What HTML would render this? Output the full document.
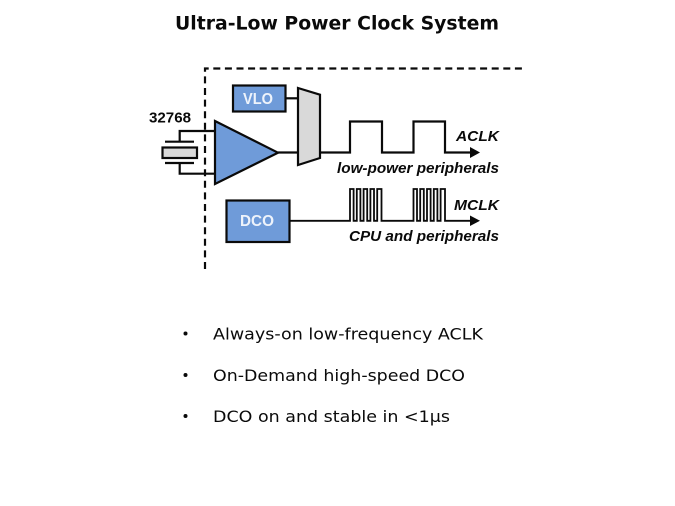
<!DOCTYPE html>
<html><head><meta charset="utf-8"><style>
html,body{margin:0;padding:0;background:#fff;width:675px;height:506px;overflow:hidden}
svg{display:block}
.v{font-family:"DejaVu Sans","Liberation Sans",sans-serif;fill:#0a0a0a}
.a{font-family:"Liberation Sans",sans-serif;font-weight:bold;fill:#0a0a0a}
.i{font-style:italic;font-size:15px}
.w{fill:#eef3fb;font-size:16px}
</style></head><body>
<svg width="675" height="506" viewBox="0 0 675 506" xmlns="http://www.w3.org/2000/svg">
<text class="v" x="175" y="29.500" font-size="18.500" font-weight="bold" textLength="324" lengthAdjust="spacingAndGlyphs">Ultra-Low Power Clock System</text>

<g fill="none" stroke="#0a0a0a" stroke-width="2.200">
<path d="M205 269V68.500H523" stroke-dasharray="7 4.600"/>
<path d="M165 141.700H194M165 163H194"/>
<path d="M179.700 141.700V131H216M179.700 163V173.700H216"/>
<path d="M286 98.300H298"/>
<path d="M278 152.500H298"/>
<path d="M320 152.500H350V121.500H382V152.500H413.500V121.500H445V152.500H472"/>
<path d="M290 220.800H350V189H353.600V220.800H356.800V189H360.400V220.800H363.600V189H367.200V220.800H370.400V189H374V220.800H377.200V189H381.500V220.800H413.500V189H417V220.800H420.200V189H423.800V220.800H427V189H430.600V220.800H433.800V189H437.400V220.800H440.600V189H445V220.800H472" stroke-width="1.800"/>
</g>
<path d="M470 147L480 152.500L470 158Z" fill="#0a0a0a"/>
<path d="M470 215.500L480 220.800L470 226Z" fill="#0a0a0a"/>

<rect x="162.500" y="147.500" width="34.500" height="10.500" fill="#d9d9d9" stroke="#0a0a0a" stroke-width="2.200"/>
<path d="M215 121L278 152.700L215 184Z" fill="#6f9bd9" stroke="#0a0a0a" stroke-width="2.200"/>
<path d="M298 88L320 94.700V158L298 165Z" fill="#d9d9d9" stroke="#0a0a0a" stroke-width="2.200"/>
<rect x="233" y="85.500" width="52.500" height="26" fill="#6f9bd9" stroke="#0a0a0a" stroke-width="2.200"/>
<rect x="226.500" y="200.500" width="63" height="41.500" fill="#6f9bd9" stroke="#0a0a0a" stroke-width="2.200"/>

<text class="a w" x="243" y="104" textLength="30" lengthAdjust="spacingAndGlyphs">VLO</text>
<text class="a w" x="240" y="226" textLength="34" lengthAdjust="spacingAndGlyphs">DCO</text>
<text class="a" x="149" y="122.500" font-size="15" textLength="42" lengthAdjust="spacingAndGlyphs">32768</text>
<text class="a i" x="456" y="141" textLength="43" lengthAdjust="spacingAndGlyphs">ACLK</text>
<text class="a i" x="337" y="173" textLength="162" lengthAdjust="spacingAndGlyphs">low-power peripherals</text>
<text class="a i" x="454" y="210" textLength="45" lengthAdjust="spacingAndGlyphs">MCLK</text>
<text class="a i" x="349" y="241" textLength="150" lengthAdjust="spacingAndGlyphs">CPU and peripherals</text>

<circle cx="185.500" cy="333.500" r="2" fill="#0a0a0a"/>
<circle cx="185.500" cy="375" r="2" fill="#0a0a0a"/>
<circle cx="185.500" cy="416" r="2" fill="#0a0a0a"/>
<text class="v" x="213" y="339.500" font-size="16" textLength="270" lengthAdjust="spacingAndGlyphs">Always-on low-frequency ACLK</text>
<text class="v" x="213" y="381" font-size="16" textLength="252" lengthAdjust="spacingAndGlyphs">On-Demand high-speed DCO</text>
<text class="v" x="213" y="422" font-size="16" textLength="237" lengthAdjust="spacingAndGlyphs">DCO on and stable in &lt;1µs</text>
</svg>
</body></html>
